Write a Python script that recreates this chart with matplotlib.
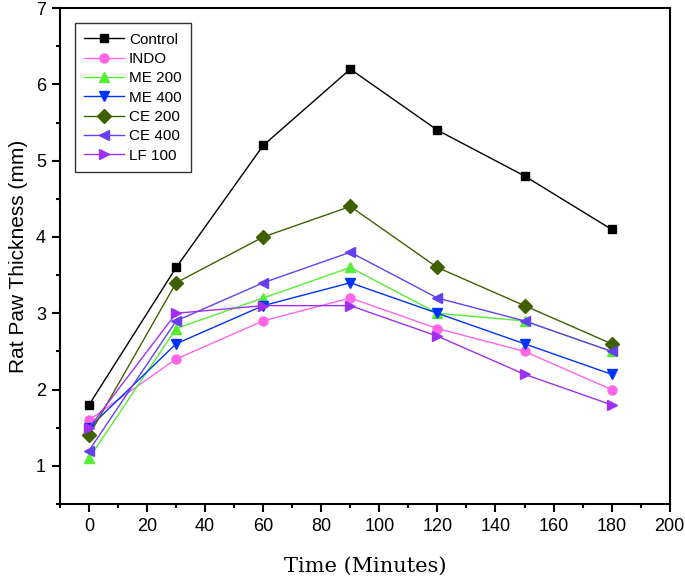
import matplotlib
matplotlib.use('Agg')
import matplotlib.pyplot as plt
from matplotlib.ticker import MultipleLocator

time = [0, 30, 60, 90, 120, 150, 180]
control = [1.8, 3.6, 5.2, 6.2, 5.4, 4.8, 4.1]
indo = [1.6, 2.4, 2.9, 3.2, 2.8, 2.5, 2.0]
me200 = [1.1, 2.8, 3.2, 3.6, 3.0, 2.9, 2.5]
me400 = [1.5, 2.6, 3.1, 3.4, 3.0, 2.6, 2.2]
ce200 = [1.4, 3.4, 4.0, 4.4, 3.6, 3.1, 2.6]
ce400 = [1.2, 2.9, 3.4, 3.8, 3.2, 2.9, 2.5]
lf100 = [1.5, 3.0, 3.1, 3.1, 2.7, 2.2, 1.8]

names = ['Control', 'INDO', 'ME 200', 'ME 400', 'CE 200', 'CE 400', 'LF 100']
series = [control, indo, me200, me400, ce200, ce400, lf100]
colors = ['#000000', '#ff66e6', '#55ee33', '#0033ff', '#3f6000', '#6640f0', '#a030f0']
markers = ['s', 'o', '^', 'v', 'D', '<', '>']
sizes = [5.5, 6.5, 7.5, 7.5, 7, 7.5, 7.5]

plt.rcParams['font.family'] = ['Liberation Sans', 'DejaVu Sans']

fig = plt.figure(figsize=(6.85, 5.77), dpi=100)
ax = fig.add_axes([0.0876, 0.1265, 0.890, 0.8595])

for name, vals, c, m, s in zip(names, series, colors, markers, sizes):
    ax.plot(time, vals, color=c, marker=m, markersize=s, linewidth=1.0, label=name)

ax.set_xlim(-10, 200)
ax.set_ylim(0.5, 7)
ax.xaxis.set_major_locator(MultipleLocator(20))
ax.xaxis.set_minor_locator(MultipleLocator(10))
ax.yaxis.set_major_locator(MultipleLocator(1))
ax.yaxis.set_minor_locator(MultipleLocator(0.5))
ax.tick_params(which='both', direction='out', width=1.5, labelsize=13, top=False, right=False)
ax.tick_params(which='major', length=6, pad=4)
ax.tick_params(which='minor', length=3)
for sp in ax.spines.values():
    sp.set_linewidth(1.5)

ax.set_ylabel('Rat Paw Thickness (mm)', fontsize=15, labelpad=6)
ax.set_xlabel('Time (Minutes)', fontsize=15, family='DejaVu Serif', labelpad=16)

leg = ax.legend(loc='upper left', fontsize=11, frameon=True, fancybox=False,
                edgecolor='black', borderaxespad=1.0, handlelength=2.6,
                handletextpad=0.3, labelspacing=0.35, borderpad=0.6)
leg.get_frame().set_linewidth(1.0)

fig.savefig('out.png', dpi=100)
